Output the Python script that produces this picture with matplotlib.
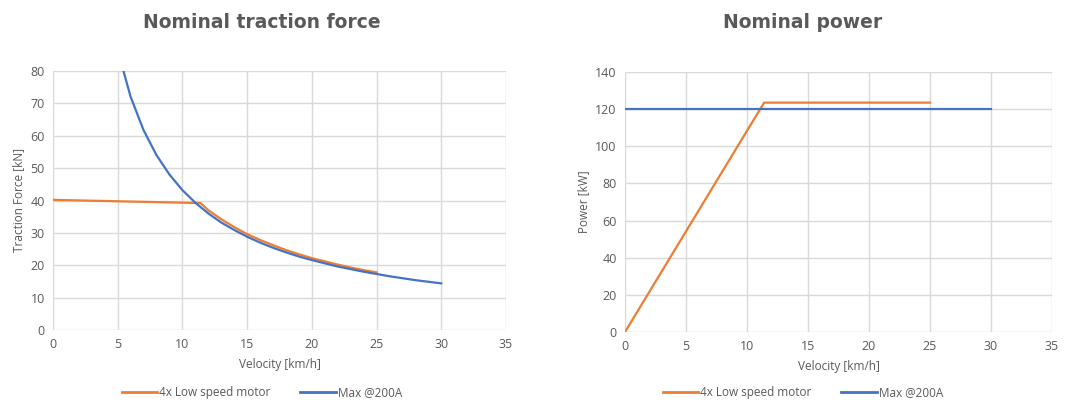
import matplotlib.pyplot as plt
from matplotlib.lines import Line2D

plt.rcParams['font.family'] = ['Open Sans', 'DejaVu Sans']

# traction force [kN] vs velocity [km/h]
v_motor = [0, 11.4, 12, 13, 14, 15, 16, 17, 18, 19, 20, 21, 22, 23, 24, 25]
f_motor = [40.2, 39.2, 37.0, 34.2, 31.8, 29.6, 27.8, 26.2, 24.7, 23.4, 22.2, 21.2, 20.2, 19.3, 18.5, 17.8]
v_max = [5, 6, 7, 8, 9, 10, 11, 12, 13, 14, 15, 16, 17, 18, 19, 20,
         21, 22, 23, 24, 25, 26, 27, 28, 29, 30]
f_max = [86.4, 72.0, 61.7, 54.0, 48.0, 43.2, 39.3, 36.0, 33.2, 30.9, 28.8, 27.0, 25.4, 24.0, 22.7, 21.6,
         20.6, 19.6, 18.8, 18.0, 17.3, 16.6, 16.0, 15.4, 14.9, 14.4]

# power [kW] vs velocity [km/h]
pv_motor = [0, 11.4, 25]
p_motor = [0, 123.5, 123.5]
pv_max = [0, 30]
p_max = [120, 120]

labels = ['4x Low speed motor', 'Max @200A']
c_orange = '#ED7D31'
c_blue = '#4472C4'
grey = '#595959'

fig = plt.figure(figsize=(10.73, 4.03), dpi=100)
ax1 = fig.add_axes([53/1073, 1-330/403, (506-53)/1073, (330-71)/403])
ax2 = fig.add_axes([625/1073, 1-332/403, (1052-625)/1073, (332-72)/403])


def style(ax, ymax, ystep, ylabel, title, cx):
    ax.set_xlim(0, 35)
    ax.set_ylim(0, ymax)
    ax.set_xticks(range(0, 36, 5))
    ax.set_yticks(range(0, ymax + 1, ystep))
    ax.grid(True, color='#d9d9d9', linewidth=1)
    ax.set_axisbelow(True)
    for s in ax.spines.values():
        s.set_visible(False)
    ax.tick_params(length=0, labelsize=9, colors=grey, pad=6)
    ax.set_xlabel('Velocity [km/h]', fontsize=8.5, color=grey, labelpad=5)
    ax.set_ylabel(ylabel, fontsize=8.5, color=grey, labelpad=4)
    fig.text(cx, 0.945, title, ha='center', va='center', fontsize=13.5,
             fontweight='bold', color=grey, family='DejaVu Sans')
    handles = [Line2D([], [], color=c_orange, lw=2), Line2D([], [], color=c_blue, lw=2)]
    fig.legend(handles, labels, loc='center', bbox_to_anchor=(cx, 0.025), ncol=2,
               frameon=False, fontsize=8.5, labelcolor=grey, handlelength=3,
               columnspacing=2.5, handletextpad=0.2)


ax1.plot(v_motor, f_motor, color=c_orange, lw=1.6)
ax1.plot(v_max, f_max, color=c_blue, lw=1.6)
style(ax1, 80, 10, 'Traction Force [kN]', 'Nominal traction force', 262/1073)

ax2.plot(pv_motor, p_motor, color=c_orange, lw=1.6)
ax2.plot(pv_max, p_max, color=c_blue, lw=1.6)
style(ax2, 140, 20, 'Power [kW]', 'Nominal power', 803/1073)

fig.savefig('out.png', dpi=100)
